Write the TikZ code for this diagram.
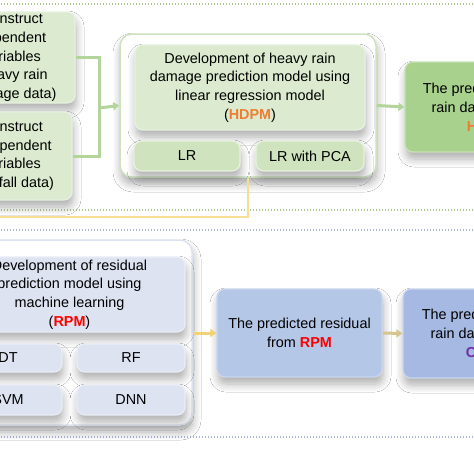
\documentclass[tikz,border=0pt]{standalone}
\usepackage{fontspec}
\setmainfont{Liberation Sans}
\usetikzlibrary{arrows.meta,shadows.blur}
\definecolor{lgfill}{HTML}{DCEBD0}
\definecolor{lgborder}{HTML}{E6F1DE}
\definecolor{contg}{HTML}{CDE2BF}
\definecolor{lrfill}{HTML}{CFE3BF}
\definecolor{hresfill}{HTML}{A9D18E}
\definecolor{hresborder}{HTML}{C8E1B6}
\definecolor{gline}{HTML}{B3D59C}
\definecolor{contb}{HTML}{DCE2EF}
\definecolor{lbfill}{HTML}{DDE3F1}
\definecolor{lbborder}{HTML}{E9EDF6}
\definecolor{residfill}{HTML}{B4C7E7}
\definecolor{residborder}{HTML}{CAD7EE}
\definecolor{cresfill}{HTML}{A5B9E2}
\definecolor{yline}{HTML}{F6DE95}
\definecolor{yarrow}{HTML}{F1D276}
\definecolor{tarrow}{HTML}{D6C58F}
\definecolor{gdots}{HTML}{A8C98E}
\definecolor{bdots}{HTML}{A9B7DA}
\definecolor{hdpmc}{HTML}{ED7D31}
\definecolor{rpmc}{HTML}{FF0000}
\definecolor{cdpmc}{HTML}{7030A0}
\begin{document}
\begin{tikzpicture}[x=1pt,y=-1pt,
  box/.style={draw, rounded corners=8pt, inner sep=0pt, align=center,
    font=\fontsize{14.4}{18.8}\selectfont, line width=1.2pt},
  shad/.style={blur shadow={shadow xshift=1pt, shadow yshift=-7pt,
    shadow blur radius=8pt, shadow blur steps=8, shadow opacity=32}},
  greenbox/.style={box, shad, fill=lgfill, draw=lgborder},
  bluebox/.style={box, shad, fill=lbfill, draw=lbborder},
  contgreen/.style={box, shad, fill=white, draw=contg, line width=1.5pt, rounded corners=12pt},
  contblue/.style={box, shad, fill=white, draw=contb, line width=1.5pt, rounded corners=12pt},
  gconn/.style={draw=gline, line width=3pt},
  garrow/.style={gconn, -{Triangle[length=6pt,width=8pt]}},
  yconn/.style={draw=yline, line width=2.6pt},
  yarr/.style={draw=yarrow, line width=3pt, -{Triangle[length=6pt,width=8pt]}},
  tarr/.style={draw=tarrow, line width=3pt, -{Triangle[length=6pt,width=8pt]}},
  gdot/.style={draw=gdots, line width=1.3pt, dash pattern=on 1.3pt off 1.7pt},
  bdot/.style={draw=bdots, line width=1.3pt, dash pattern=on 1.3pt off 1.7pt},
]
\useasboundingbox (0,0) rectangle (474,474);
\fill[white] (0,0) rectangle (474,474);
\clip (0,0) rectangle (474,474);

% separators
\draw[gdot] (-2,4) -- (476,4);
\draw[gdot] (-2,210) -- (476,210);
\draw[bdot] (-2,230) -- (476,230);
\draw[bdot] (-2,437) -- (476,437);

% top section
\node[greenbox, minimum width=126pt, minimum height=91pt] (dep) at (12,57.5)
  {Construct\\dependent\\variables\\(heavy rain\\damage data)};
\node[greenbox, minimum width=120pt, minimum height=88pt] (ind) at (12,156)
  {Construct\\independent\\variables\\(rainfall data)};

\node[contgreen, minimum width=256pt, minimum height=143pt] (hcont) at (248,105.5) {};
\node[greenbox, minimum width=230pt, minimum height=85pt] (htext) at (250,87.5)
  {Development of heavy rain\\damage prediction model using\\linear regression model\\(\textbf{\color{hdpmc}HDPM})};
\node[greenbox, fill=lrfill, minimum width=106pt, minimum height=30pt] (lr) at (187,156) {LR};
\node[greenbox, fill=lrfill, minimum width=108pt, minimum height=30pt] (lrpca) at (310,156) {LR with PCA};

\node[box, shad, fill=hresfill, draw=hresborder, minimum width=166pt, minimum height=90pt] (hres) at (488,107)
  {The predicted heavy\\rain damage from\\\textbf{\color{hdpmc}HDPM}};

\coordinate (hb) at (99,108);
\draw[gconn] (dep.east) -| (hb);
\draw[gconn] (ind.east) -| (hb);
\draw[garrow] (hb) -- (hcont.west);
\draw[garrow] (hcont.east) -- (hres.west);

\coordinate (yl) at (-10,217);
\draw[yconn] (hcont.south) |- (yl);

% bottom section
\node[contblue, minimum width=252pt, minimum height=185pt] (rcont) at (66,332.5) {};
\node[bluebox, minimum width=231pt, minimum height=75pt] (rtext) at (69.5,294.5)
  {Development of residual\\prediction model using\\machine learning\\(\textbf{\color{rpmc}RPM})};
\node[bluebox, minimum width=108pt, minimum height=28pt] (dt) at (8,358) {DT};
\node[bluebox, minimum width=108pt, minimum height=28pt] (rf) at (131,358) {RF};
\node[bluebox, minimum width=108pt, minimum height=30pt] (svm) at (8,400) {SVM};
\node[bluebox, minimum width=108pt, minimum height=30pt] (dnn) at (131,400) {DNN};

\node[box, shad, fill=residfill, draw=residborder, minimum width=165pt, minimum height=88pt] (resid) at (299.5,333)
  {The predicted residual\\from \textbf{\color{rpmc}RPM}};
\node[box, shad, fill=cresfill, draw=residborder, minimum width=168pt, minimum height=89pt] (cres) at (487,333.5)
  {The predicted heavy\\rain damage from\\\textbf{\color{cdpmc}CDPM}};

\draw[yarr] (rcont.east |- resid.west) -- (resid.west);
\draw[tarr] (resid.east) -- (cres.west);
\end{tikzpicture}
\end{document}
